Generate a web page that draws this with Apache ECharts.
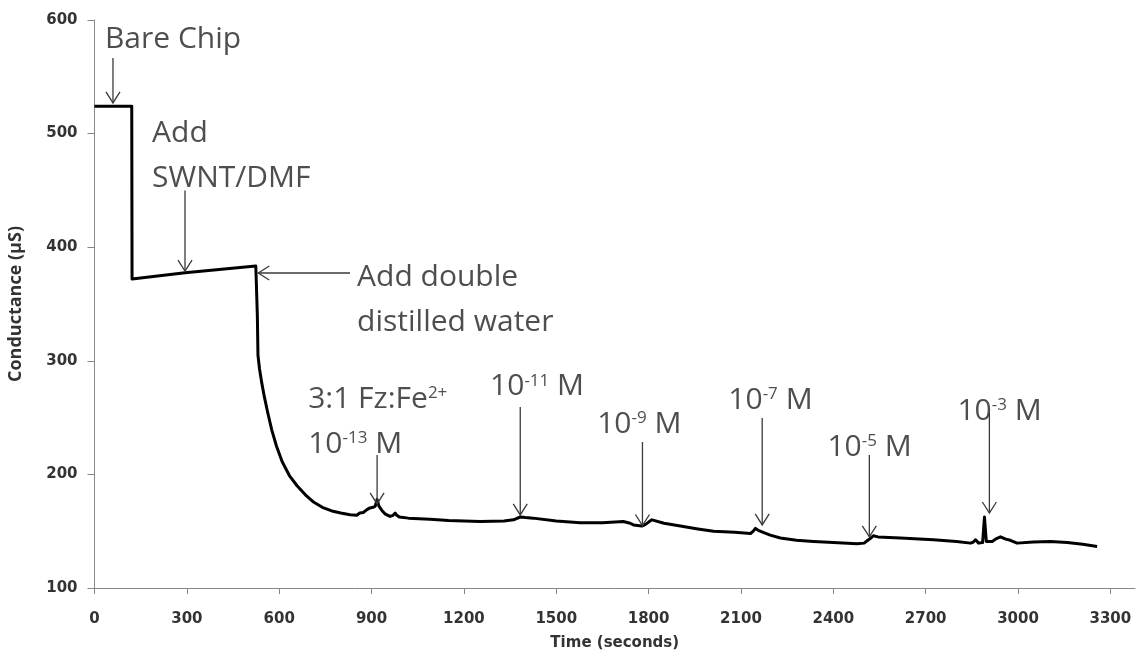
<!DOCTYPE html>
<html>
<head>
<meta charset="utf-8">
<script src="https://cdn.jsdelivr.net/npm/echarts@6/dist/echarts.min.js"></script>
<style>
  html, body { margin: 0; padding: 0; background: #ffffff; }
  #chart { width: 1148px; height: 660px; }
</style>
</head>
<body>
<div id="chart"></div>
<script>
// Conductance trace of the sensor chip over time
const timeSec = [
  0, 121, 122, 294, 524, 526, 529, 531, 536, 543, 552, 563, 576, 591, 610, 633, 658, 685, 710, 740, 775,
  800, 830, 852, 862, 873, 885, 895, 905, 912, 918, 924, 933, 945, 960, 970, 977, 982, 990, 1020, 1090,
  1150, 1253, 1330, 1361, 1383, 1400, 1425, 1500, 1578, 1650, 1718, 1740, 1751, 1778, 1790, 1800, 1811, 1850, 1903, 1960,
  2011, 2080, 2131, 2140, 2147, 2155, 2168, 2195, 2228, 2280, 2336, 2400, 2477, 2500, 2512, 2520, 2530, 2545, 2618, 2725,
  2800, 2846, 2855, 2862, 2872, 2885, 2889, 2891, 2895, 2897, 2900, 2916, 2930, 2943, 2960, 2975, 2997, 3050, 3106, 3160, 3210,
  3257
];
const conductance = [
  524, 524, 372, 377.5, 383.5, 383, 340, 305, 293, 281, 268, 254, 239, 225, 211, 199, 190, 182, 176, 171, 167.5,
  166, 164.5, 164, 166, 166.5, 169, 170.5, 171, 172, 178, 172, 168.5, 165, 163, 164, 166, 164, 162.5, 161.5, 160.5,
  159.5, 158.5, 159, 160, 162.5, 162, 161.5, 159, 157.5, 157.5, 158.5, 157, 155.5, 154.5, 156, 158, 160, 157, 154.5, 152,
  150, 149, 148, 150, 152.5, 151, 149.5, 146.5, 144, 142, 141, 140, 139, 139.5, 142, 143.5, 146, 145, 144, 142.5,
  141, 139.5, 140.5, 142.5, 139.5, 140, 141, 162.5, 162.5, 141, 139.5, 141, 143.5, 145, 143, 142, 139.5, 140.5, 141, 140, 138.5,
  136.5
];

// Axis ticks
const xTicks = [0, 300, 600, 900, 1200, 1500, 1800, 2100, 2400, 2700, 3000, 3300];
const yTicks = [100, 200, 300, 400, 500, 600];

// Annotations: text, text anchor (left edge time, middle conductance), arrow tail and tip
const noteText = [
  'Bare Chip',
  'Add\nSWNT/DMF',
  'Add double\ndistilled water',
  '3:1 Fz:Fe{s|2+}\n10{s|-13} M',
  '10{s|-11} M',
  '10{s|-9} M',
  '10{s|-7} M',
  '10{s|-5} M',
  '10{s|-3} M'
];
const noteAt = [
  [34, 583], [187, 480], [853, 353.5], [694, 246.6], [1285, 277],
  [1633, 244.4], [2059, 265.5], [2381, 224], [2803, 255.8]
];
const arrowTail = [
  [60, 566.5], [294, 450], [830, 377.3], [918, 217], [1383, 259.3],
  [1780, 228.5], [2169, 249.6], [2517, 217], [2907, 254]
];
const arrowTip = [
  [60, 527], [294, 379], [532, 377.3], [918, 174], [1383, 164.3],
  [1780, 155], [2169, 155.5], [2517, 145], [2907, 166]
];

const axisGray = '#868686';
const tickFont = { fontFamily: 'DejaVu Sans', fontWeight: 'bold', fontSize: 15, color: '#333333' };
const plainNumber = (v) => String(v);

const chart = echarts.init(document.getElementById('chart'), null, { renderer: 'canvas' });

chart.setOption({
  animation: false,
  backgroundColor: '#ffffff',
  grid: { left: 94.5, right: 13, top: 20, bottom: 72, containLabel: false, outerBoundsMode: 'none' },
  xAxis: {
    type: 'value',
    min: 0,
    max: 3380,
    name: 'Time (seconds)',
    nameLocation: 'middle',
    nameGap: 48,
    nameTextStyle: { fontFamily: 'DejaVu Sans', fontWeight: 'bold', fontSize: 15, color: '#333333' },
    axisLine: { show: true, lineStyle: { color: axisGray, width: 1 } },
    axisTick: { show: true, length: 6, lineStyle: { color: axisGray }, customValues: xTicks },
    axisLabel: Object.assign({ margin: 24, customValues: xTicks, formatter: plainNumber }, tickFont),
    splitLine: { show: false }
  },
  yAxis: {
    type: 'value',
    min: 100,
    max: 600,
    interval: 100,
    name: 'Conductance (µS)',
    nameLocation: 'middle',
    nameGap: 70,
    nameTextStyle: { fontFamily: 'Open Sans', fontWeight: 'bold', fontSize: 18, color: '#333333' },
    axisLine: { show: true, lineStyle: { color: axisGray, width: 1 } },
    axisTick: { show: true, length: 7, lineStyle: { color: axisGray }, customValues: yTicks },
    axisLabel: Object.assign({ margin: 17, customValues: yTicks, formatter: plainNumber }, tickFont),
    splitLine: { show: false }
  },
  series: [
    {
      type: 'line',
      data: timeSec.map((t, i) => [t, conductance[i]]),
      showSymbol: false,
      symbol: 'none',
      smooth: false,
      lineStyle: { color: '#000000', width: 3, join: 'round' },
      z: 3
    },
    {
      type: 'custom',
      silent: true,
      z: 4,
      data: arrowTail.map((a, i) => [a[0], a[1], arrowTip[i][0], arrowTip[i][1]]),
      encode: { x: [0, 2], y: [1, 3] },
      renderItem: function (params, api) {
        const p0 = api.coord([api.value(0), api.value(1)]);
        const p1 = api.coord([api.value(2), api.value(3)]);
        const dx = p1[0] - p0[0], dy = p1[1] - p0[1];
        const len = Math.hypot(dx, dy) || 1;
        const ux = dx / len, uy = dy / len;
        const L = 11, W = 7;
        const a1 = [p1[0] - ux * L - uy * W, p1[1] - uy * L + ux * W];
        const a2 = [p1[0] - ux * L + uy * W, p1[1] - uy * L - ux * W];
        const st = { stroke: '#3a3a3a', lineWidth: 1.3, fill: null };
        return {
          type: 'group',
          children: [
            { type: 'line', shape: { x1: p0[0], y1: p0[1], x2: p1[0], y2: p1[1] }, style: st },
            { type: 'polyline', shape: { points: [a1, p1, a2] }, style: st }
          ]
        };
      }
    },
    {
      type: 'scatter',
      silent: true,
      z: 5,
      symbolSize: 0,
      data: noteAt.map((p, i) => ({ value: p, name: noteText[i] })),
      label: {
        show: true,
        position: 'right',
        distance: 0,
        formatter: (p) => p.name,
        fontFamily: 'Open Sans',
        fontSize: 30,
        lineHeight: 45,
        color: '#222222',
        align: 'left',
        rich: {
          s: { fontFamily: 'Open Sans', fontSize: 17, verticalAlign: 'middle', padding: [0, 0, 12, 0], color: '#222222' }
        }
      }
    }
  ]
});
</script>
</body>
</html>
